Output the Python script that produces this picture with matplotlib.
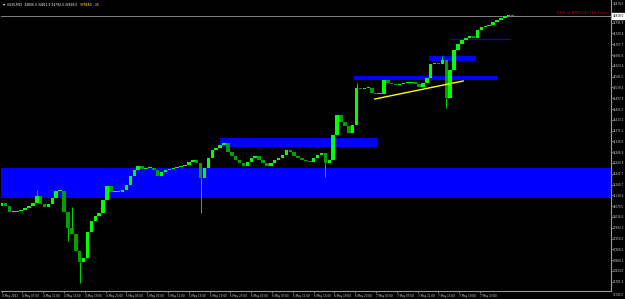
import matplotlib
matplotlib.use("Agg")
import matplotlib.pyplot as plt
from matplotlib.patches import Rectangle
from matplotlib.transforms import blended_transform_factory

closes = [
    34088.7, 34077.0, 34053.6, 34053.6, 34057.5, 34061.4, 34069.2, 34077.0, 34088.7, 34116.0,
    34084.8, 34073.1, 34084.8, 34108.2, 34135.5, 34135.5, 34053.6, 33991.2, 33967.8, 33901.5,
    33858.6, 33874.2, 33975.6, 34018.5, 34038.0, 34049.7, 34100.4, 34155.0, 34131.6, 34131.6,
    34131.6, 34139.4, 34158.9, 34194.0, 34217.4, 34233.0, 34221.3, 34225.2, 34225.2, 34217.4,
    34194.0, 34209.6, 34217.4, 34221.3, 34225.2, 34229.1, 34233.0, 34236.9, 34248.6, 34256.4,
    34244.7, 34186.2, 34225.2, 34264.2, 34295.4, 34303.2, 34314.9, 34322.7, 34287.6, 34272.0,
    34256.4, 34244.7, 34233.0, 34248.6, 34264.2, 34272.0, 34256.4, 34244.7, 34233.0, 34244.7,
    34256.4, 34264.2, 34275.9, 34295.4, 34287.6, 34272.0, 34264.2, 34256.4, 34252.5, 34248.6,
    34264.2, 34275.9, 34283.7, 34244.7, 34256.4, 34353.9, 34431.9, 34404.6, 34389.0, 34361.7,
    34392.9, 34537.2, 34533.3, 34537.2, 34537.2, 34517.7, 34513.8, 34513.8, 34568.4, 34556.7,
    34552.8, 34548.9, 34552.8, 34556.7, 34556.7, 34560.6, 34552.8, 34541.1, 34556.7, 34576.2,
    34630.8, 34634.7, 34630.8, 34646.4, 34498.2, 34607.4, 34685.4, 34708.8, 34724.4, 34732.2,
    34740.0, 34732.2, 34763.4, 34775.1, 34779.0, 34782.9, 34794.6, 34802.4, 34810.2, 34818.0,
    34821.9, 34818.0,
]
first_open = 34077.0
bar_step = 3  # M15 bars per drawn candle

# long wicks: (sample index, price)
wick_lows = [(20, 33776.7), (51, 34049.7), (83, 34190.1), (114, 34459.2), (17, 33940.0)]
wick_highs = [(9, 34139.4), (18, 34073.1), (91, 34556.7), (113, 34662.0)]

# supply / demand zones: (bar start, bar end, low, high)
zones = [
    (168, 289, 34307.1, 34342.2),
    (271, 382, 34568.4, 34584.0),
    (329, 365, 34642.5, 34662.0),
]
band_low, band_high = 34108.2, 34225.2
level_line = (345, 391, 34728.3)
trend_line = ([287, 355], [34494.3, 34564.5])
bid = 34818.0

price_ticks = [34791.9, 34749.8, 34707.7, 34665.6, 34623.6, 34581.5, 34539.4, 34497.3,
               34455.2, 34413.1, 34371.1, 34329.0, 34286.9, 34244.8, 34202.7, 34160.7,
               34118.6, 34076.5, 34034.4, 33992.3, 33950.2, 33908.2, 33866.1, 33824.0,
               33781.9]
time_labels = [
    "4 May 2021", "4 May 07:00", "4 May 11:00", "4 May 15:00", "4 May 19:00", "4 May 23:00",
    "5 May 03:00", "5 May 07:00", "5 May 11:00", "5 May 15:00", "5 May 19:00", "5 May 23:00",
    "6 May 03:00", "6 May 07:00", "6 May 11:00", "6 May 15:00", "6 May 19:00", "6 May 23:00",
    "7 May 03:00", "7 May 07:00", "7 May 11:00", "7 May 15:00", "7 May 19:00", "7 May 23:00",
]
bars_per_label = 16

GRAY = "#9a9a9a"
FS = 2.0

fig = plt.figure(figsize=(6.25, 2.99), dpi=100, facecolor="black")
ax = fig.add_axes([1 / 625, 8 / 299, 610 / 625, 291 / 299])
ax.set_facecolor("black")
ax.set_xlim(-0.5, 468.7)
ax.set_ylim(33745.5, 34880.4)

# zones behind the candles
ax.axhspan(band_low, band_high, color="#0000ff", lw=0, zorder=1)
for b0, b1, lo, hi in zones:
    ax.add_patch(Rectangle((b0, lo), b1 - b0, hi - lo, color="#0000ff", lw=0, zorder=1))
ax.hlines(level_line[2], level_line[0], level_line[1], color="#0000ff", lw=0.9, zorder=1)

# candles
prev = first_open
for i, c in enumerate(closes):
    b = i * bar_step
    up = c >= prev
    col = "#00ff00" if up else "#00a000"
    h = max(abs(c - prev), 3.0)
    ax.bar(b, h, bottom=min(c, prev), width=2.7, color=col, lw=0, zorder=3)
    prev = c
for i, p in wick_lows:
    lo_body = min(closes[i], closes[i - 1])
    ax.vlines(i * bar_step, p, lo_body, color="#00dd00", lw=0.7, zorder=3)
for i, p in wick_highs:
    hi_body = max(closes[i], closes[i - 1])
    ax.vlines(i * bar_step, hi_body, p, color="#00dd00", lw=0.7, zorder=3)

ax.plot(trend_line[0], trend_line[1], color="#ffff00", lw=1.0, zorder=4)
ax.axhline(bid, color="#808080", lw=0.7, zorder=2)

# axes styling
for side in ["top", "left"]:
    ax.spines[side].set_visible(False)
for side in ["right", "bottom"]:
    ax.spines[side].set_color(GRAY)
    ax.spines[side].set_linewidth(0.8)

ax.yaxis.tick_right()
ax.set_yticks(price_ticks)
ax.set_yticklabels([f"{p:.1f}" for p in price_ticks])
ax.tick_params(axis="y", colors=GRAY, labelcolor="#d0d0d0", labelsize=FS,
               length=1.2, width=0.5, pad=0.4)
ax.set_xticks([k * bars_per_label for k in range(len(time_labels))])
ax.set_xticklabels(time_labels, ha="left")
ax.tick_params(axis="x", colors=GRAY, labelcolor="#d0d0d0", labelsize=FS,
               length=1.5, width=0.5, pad=1)

trans = blended_transform_factory(ax.transAxes, ax.transData)
ax.text(1.0025, bid, f"{bid:.1f}", transform=trans, fontsize=FS, color="black",
        va="center", ha="left", zorder=6, clip_on=False,
        bbox=dict(boxstyle="square,pad=0.2", fc="white", ec="white"))

# header texts
fig.text(613 / 625, 1 - 4 / 299, "34876.0", fontsize=FS, color="#d0d0d0", va="center")
fig.text(613 / 625, 1 - 295 / 299, "33745.5", fontsize=FS, color="#d0d0d0", va="center")
fig.text(2.5 / 625, 1 - 4.5 / 299, "\u25be", fontsize=3, color="white", va="center")
fig.text(7 / 625, 1 - 4.5 / 299, "US30,M15  34806.0 34821.9 34794.0 34818.0",
         fontsize=2.2, color="white", va="center")
fig.text(80 / 625, 1 - 4.5 / 299, "SPREAD : 48", fontsize=2.2, color="#ffd700", va="center")
fig.text(609 / 625, 1 - 13 / 299, "68% of ATR (14):116 Points", fontsize=2.7,
         color="#cc0000", va="center", ha="right")

fig.savefig("out.png", dpi=100, facecolor="black")
